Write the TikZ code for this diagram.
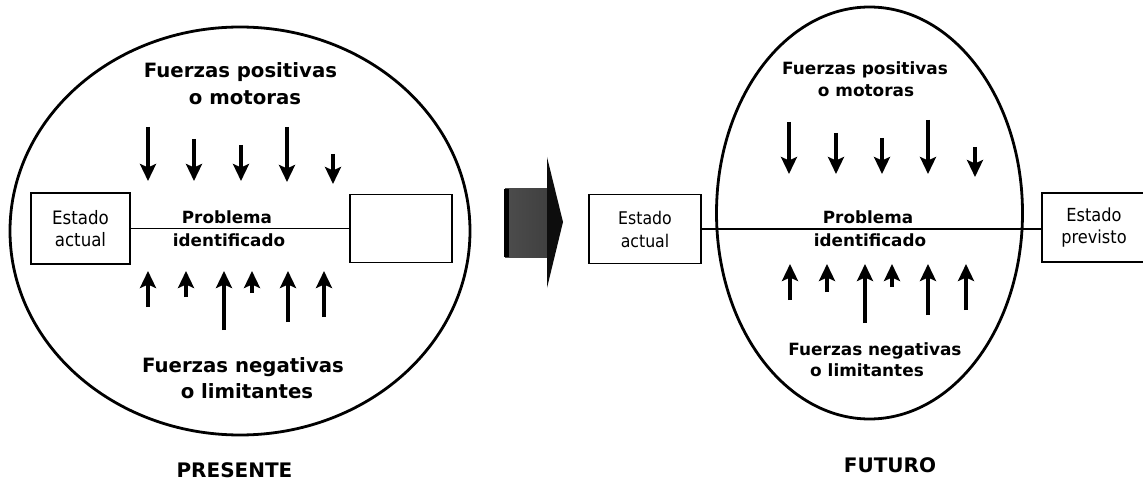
\documentclass[tikz,border=0pt]{standalone}
\usepackage{fontspec}
\setmainfont{DejaVu Sans}
\newfontfamily\condfont{DejaVu Sans Condensed}
\usetikzlibrary{arrows.meta}
\begin{document}
\begin{tikzpicture}[x=1pt,y=-1pt,
  oval/.style={line width=2.8pt},
  statebox/.style={draw, line width=1.7pt, inner sep=0pt, align=center},
  link/.style={line width=1.6pt},
  force/.style={line width=3.4pt, -{Stealth[length=17pt,width=16pt,inset=3.5pt]}},
  txt/.style={inner sep=0pt, anchor=base},
  bigL/.style={txt, font=\bfseries\fontsize{19.7}{22}\selectfont},
  bigR/.style={txt, font=\bfseries\fontsize{16.9}{20}\selectfont},
  prob/.style={txt, font=\bfseries\fontsize{16.8}{20}\selectfont},
  era/.style={txt, font=\bfseries\fontsize{20}{24}\selectfont},
]
\useasboundingbox (0,0) rectangle (1143,481);
\clip (0,0) rectangle (1143,481);

% ---------------- PRESENTE ----------------
\draw[oval] (240,231) ellipse [x radius=230, y radius=204];

\node[statebox, minimum width=99, minimum height=71,
      font=\condfont\fontsize{18.5}{22}\selectfont] (actP) at (80.5,228.5) {Estado\\actual};
\node[statebox, minimum width=102, minimum height=68] (metaP) at (401,228.5) {};
\draw[link] (actP.east) -- (actP.east -| metaP.west);

\node[bigL] (posP1) at (240.5,78) {Fuerzas positivas};
\node[bigL] (posP2) at (245,105) {o motoras};
\node[prob] (probP1) at (227,223) {Problema};
\node[prob] (probP2) at (229,247) {identificado};
\node[bigL] (negP1) at (243,372) {Fuerzas negativas};
\node[bigL] (negP2) at (247,398) {o limitantes};
\node[era] (presente) at (234.5,477) {PRESENTE};

% driving forces (down)
\foreach \x/\s/\t in {148/127/181, 194/139/181, 241/145/181, 287/127/182, 333/154/184}
  \draw[force] (\x,\s) -- (\x,\t);
% restraining forces (up)
\foreach \x/\b in {148/307, 186/297, 224/330, 252/293, 288/322, 324/317}
  \draw[force] (\x,\b) -- (\x,271);

% ---------------- transition arrow ----------------
\shade[left color=black!70, middle color=black!40, right color=black!75]
  (505,189) rectangle (548,257);
\fill[black] (504,189) rectangle (509,257);
\shade[top color=black!95, middle color=black!60, bottom color=black!95]
  (547,157) -- (563,222) -- (547,288) -- cycle;

% ---------------- FUTURO ----------------
\draw[oval] (869.5,213) ellipse [x radius=153, y radius=206];

\node[statebox, minimum width=112, minimum height=69,
      font=\condfont\fontsize{17.5}{23}\selectfont] (actF) at (645,229) {Estado\\actual};
\node[statebox, minimum width=104, minimum height=69,
      font=\condfont\fontsize{18}{22}\selectfont] (prevF) at (1094,227.5) {Estado\\previsto};
\draw[link] (actF.east) -- (actF.east -| prevF.west);

\node[bigR] (posF1) at (865,75) {Fuerzas positivas};
\node[bigR] (posF2) at (866,97) {o motoras};
\node[prob] (probF1) at (868,223) {Problema};
\node[prob] (probF2) at (870,247) {identificado};
\node[bigR] (negF1) at (875,355) {Fuerzas negativas};
\node[bigR] (negF2) at (867,376) {o limitantes};
\node[era] (futuro) at (890,472) {FUTURO};

\foreach \x/\s/\t in {789/122/174, 836/133/174, 882/138/174, 928/120/174, 975/147/177}
  \draw[force] (\x,\s) -- (\x,\t);
\foreach \x/\b in {790/300, 827/292, 865/323, 892/287, 928/315, 966/310}
  \draw[force] (\x,\b) -- (\x,264);
\end{tikzpicture}
\end{document}
